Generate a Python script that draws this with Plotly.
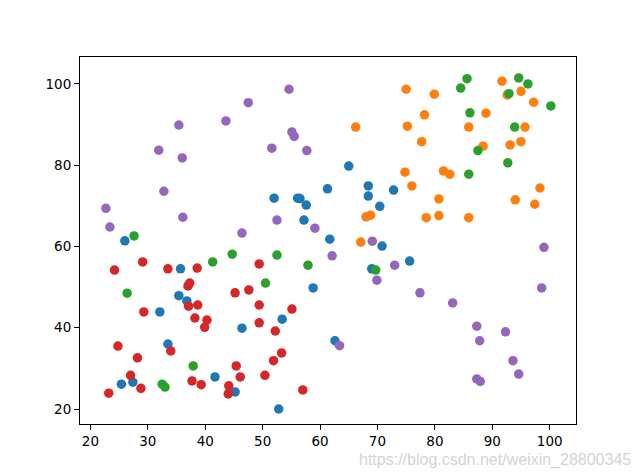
import plotly.graph_objects as go

blue_x = [26.0, 65.0, 61.3, 68.4, 68.4, 72.8, 70.4, 52.0, 56.1, 56.5, 57.6, 57.2, 61.7, 35.7, 35.4,
          36.8, 32.1, 46.4, 33.5, 41.7, 25.4, 27.4, 45.2, 70.8, 69.0, 75.6, 58.8, 53.4, 62.6, 52.8]
blue_y = [61.4, 79.8, 74.2, 74.9, 72.4, 73.9, 69.9, 71.9, 71.9, 71.8, 70.2, 66.5, 61.8, 54.5, 47.9,
          46.6, 43.9, 39.9, 36.0, 27.9, 26.1, 26.6, 24.2, 60.1, 54.5, 56.4, 49.8, 42.1, 36.8, 20.0]

orange_x = [75.0, 66.2, 75.2, 74.8, 68.0, 68.8, 67.1, 79.9, 91.7, 95.0, 92.6, 97.2, 78.2, 88.9, 85.9,
            95.7, 77.7, 88.4, 93.1, 95.0, 81.5, 82.6, 76.0, 80.7, 98.3, 94.0, 97.4, 78.5, 80.7, 85.9]
orange_y = [98.7, 89.4, 89.6, 78.3, 67.3, 67.7, 61.1, 97.5, 100.7, 98.2, 97.3, 95.5, 92.4, 92.8, 89.4,
            89.4, 85.8, 84.7, 85.0, 85.8, 78.6, 77.8, 74.9, 71.7, 74.4, 71.5, 70.4, 67.1, 67.6, 67.1]

green_x = [27.6, 85.6, 84.5, 94.6, 96.2, 92.9, 100.2, 86.1, 93.9, 87.5, 92.7, 85.9, 44.7, 41.3, 26.4,
           37.9, 32.5, 33.0, 69.7, 52.5, 57.9, 50.5]
green_y = [62.6, 101.3, 99.0, 101.5, 100.0, 97.6, 94.6, 92.9, 89.4, 83.6, 80.6, 77.8, 58.1, 56.2, 48.5,
           30.6, 26.1, 25.4, 54.2, 57.9, 55.4, 51.0]

red_x = [29.1, 24.2, 33.5, 38.6, 37.3, 37.0, 45.2, 47.6, 29.3, 37.1, 38.7, 38.2, 40.3, 39.9, 24.8,
         34.0, 28.2, 27.0, 28.8, 23.2, 37.7, 39.3, 45.4, 46.1, 44.1, 44.0, 49.4, 49.4, 55.1, 49.4,
         52.2, 53.3, 51.9, 50.4, 57.0]
red_y = [56.2, 54.2, 54.5, 54.7, 51.0, 50.3, 48.6, 49.3, 43.9, 45.3, 45.6, 42.4, 41.9, 40.1, 35.5,
         34.3, 32.6, 28.3, 25.1, 23.9, 26.9, 26.0, 30.6, 27.9, 25.7, 23.7, 55.7, 45.6, 44.6, 41.2,
         39.2, 33.8, 31.9, 28.3, 24.7]

purple_x = [47.5, 43.6, 35.4, 31.9, 36.0, 32.8, 22.7, 36.1, 23.4, 46.4, 54.6, 55.1, 55.5, 51.6, 57.7,
            52.5, 59.1, 69.1, 62.1, 73.0, 69.9, 63.4, 99.0, 77.4, 98.6, 83.1, 87.3, 92.3, 87.8, 93.6,
            94.6, 87.3, 87.9]
purple_y = [95.4, 90.9, 89.9, 83.7, 81.8, 73.6, 69.4, 67.2, 64.8, 63.3, 98.7, 88.2, 87.1, 84.2, 83.6,
            66.5, 64.5, 61.3, 57.7, 55.4, 51.7, 35.6, 59.8, 48.6, 49.8, 46.1, 40.4, 39.0, 36.8, 31.9,
            28.6, 27.4, 26.8]

x_ticks = [20, 30, 40, 50, 60, 70, 80, 90, 100]
y_ticks = [20, 40, 60, 80, 100]

series = [
    (blue_x, blue_y, "#1f77b4"),
    (orange_x, orange_y, "#ff7f0e"),
    (green_x, green_y, "#2ca02c"),
    (red_x, red_y, "#d62728"),
    (purple_x, purple_y, "#9467bd"),
]

fig = go.Figure()
for xs, ys, c in series:
    fig.add_trace(go.Scatter(x=xs, y=ys, mode="markers",
                             marker=dict(size=9.5, color=c, line=dict(width=0)),
                             showlegend=False, hoverinfo="skip"))

axis_common = dict(showline=True, linecolor="black", linewidth=1, mirror=True,
                   ticks="outside", ticklen=5, tickwidth=1, tickcolor="black",
                   showgrid=False, zeroline=False,
                   tickfont=dict(family="DejaVu Sans", size=13.5, color="black"))

fig.update_xaxes(range=[18.19, 104.58], tickvals=x_ticks, ticktext=[str(v) for v in x_ticks],
                 **axis_common)
fig.update_yaxes(range=[16.31, 106.64], tickvals=y_ticks, ticktext=[str(v) for v in y_ticks],
                 **axis_common)

fig.add_annotation(text="https://blog.csdn.net/weixin_28800345", xref="paper", yref="paper",
                   x=1.0, y=-0.097, xanchor="right", yanchor="middle", showarrow=False,
                   xshift=57,
                   font=dict(family="Liberation Sans", size=16, color="rgba(200,200,200,0.8)"))

fig.update_layout(width=640, height=476, plot_bgcolor="white", paper_bgcolor="white",
                  margin=dict(l=80, r=64, t=57, b=52))

fig.write_html("out.html")
